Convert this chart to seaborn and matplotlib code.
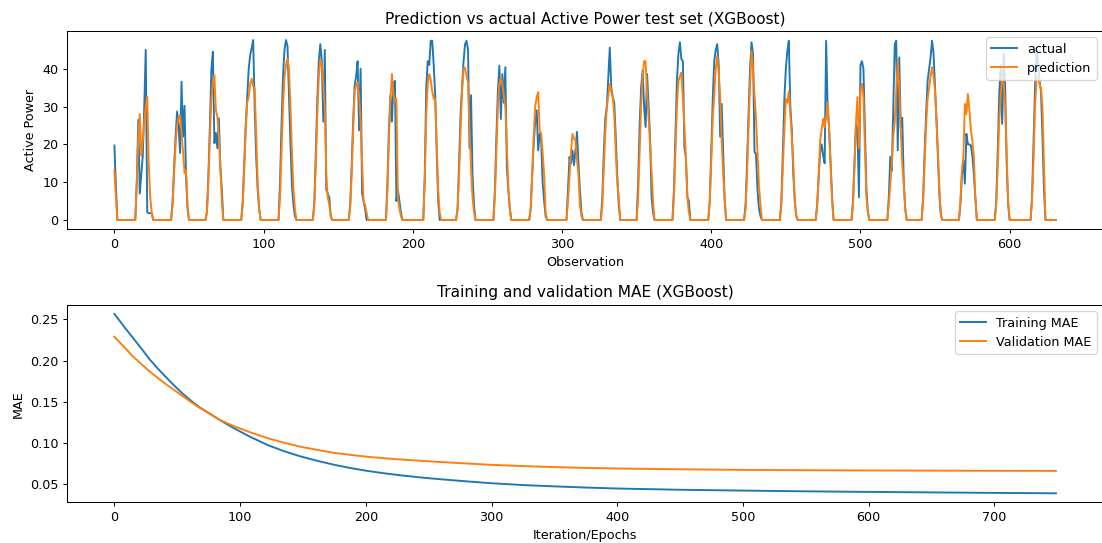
import numpy as np
import matplotlib
matplotlib.use("Agg")
import matplotlib.pyplot as plt
import seaborn as sns

# test set: hourly observations, night hours are zero
N_OBS = 632
day_start = [0, 14, 38, 61, 85, 110, 133, 157, 182, 207, 229, 254, 278, 303, 326, 350, 374, 398, 422, 446, 470, 494, 518, 541, 566, 590, 614]
actual_days = [
    [19.7, 9, 0],
    [0, 10, 26.5, 7, 12, 17, 30, 45, 2, 1.8, 1.8, 1.8, 0],
    [0, 5, 14, 22, 28.7, 25, 17.7, 36.6, 22, 30.2, 11.5, 3, 0],
    [0, 2, 12, 25, 40, 44.5, 20.3, 23, 19, 26.9, 14, 8, 0],
    [0, 5, 15, 25, 32.6, 40, 43.6, 45.5, 47.6, 30, 17, 8, 3, 0],
    [0, 10, 25, 38, 45, 47.6, 46, 33, 20, 9, 4, 1, 0],
    [0, 5, 18, 32, 42, 46.5, 42, 26, 45, 8, 7, 6, 1, 0],
    [0, 4, 14, 26, 35.5, 38, 42, 23.7, 40, 7, 5, 3, 0],
    [0, 10, 24, 33, 26, 36, 36.8, 5, 8, 5, 2, 0],
    [0, 12, 35, 42, 41, 47.4, 47.4, 41, 33, 18, 5, 0],
    [0, 3, 15, 28, 35, 42, 46.5, 47.4, 45, 19, 33, 12, 4, 0],
    [0, 8, 22, 34, 40.8, 26.7, 38.6, 31, 40.4, 14, 8, 3, 0],
    [0, 3, 12, 20, 26, 29, 18.4, 22.8, 21, 10, 5, 1, 0],
    [0, 8, 16.7, 15, 18.4, 14.5, 18.4, 23.3, 15, 8, 2, 0],
    [0, 6, 18, 27, 29.8, 38, 45.6, 35, 32.5, 31, 22, 12, 4, 0],
    [0, 10, 25, 35, 39.5, 30, 24.6, 38.6, 30, 22, 6, 2, 0],
    [0, 8, 22, 36.8, 44, 47, 42.5, 42, 19.3, 16.7, 6, 5, 0],
    [0, 5, 18, 32, 42, 45, 46.5, 41, 22, 30.7, 17.5, 5, 0],
    [0, 4, 15, 28, 40, 47, 44, 18, 17.5, 8, 3, 1, 0],
    [0, 5, 18, 32, 40, 44.7, 47.4, 30, 23.7, 12, 5, 1, 0],
    [0, 4, 11.5, 18, 20, 17, 15, 47.4, 30, 24, 15, 6, 0],
    [0, 5, 15, 25.4, 24, 6, 41, 42, 40, 23.7, 8, 2, 0],
    [0, 6, 16.7, 13, 30, 46.5, 47.4, 18.4, 43, 24.5, 27, 10.5, 3, 0],
    [0, 6, 18, 28, 36.8, 40, 43, 47.4, 44, 35, 26, 16, 6, 1, 0],
    [0, 4, 12, 15.8, 9.6, 22.8, 20, 20, 19.7, 17, 12, 6, 0],
    [0, 5, 18, 33, 41, 25.4, 44, 35, 15, 4, 0],
    [0, 6, 20, 35, 44.7, 42, 36.8, 34, 22, 8, 0],
]
pred_days = [
    [13.2, 6, 0],
    [0, 10, 22, 28, 17, 21, 26, 30, 32.6, 15, 6, 2, 0],
    [0, 4, 12, 20, 25, 27, 27.8, 23, 18, 12.4, 13.3, 4, 0],
    [0, 2, 10, 22, 32, 36, 38.3, 29, 27.3, 22, 14, 5, 0],
    [0, 4, 13, 24, 31, 32.6, 36, 37.4, 35.3, 35, 23, 10, 3, 0],
    [0, 6, 18, 30, 38, 41, 42.7, 40, 30, 18, 8, 3, 0],
    [0, 4, 15, 28, 38, 42.5, 41, 36, 30, 12, 6, 4, 1, 0],
    [0, 3, 12, 24, 34, 35.5, 36.4, 33, 26, 15, 5, 4, 2, 0],
    [0, 8, 22, 32, 38.6, 33, 31.6, 32, 6, 3, 1, 0],
    [0, 10, 28, 36, 38.6, 37, 34, 32, 32, 20, 8, 2, 0],
    [0, 3, 12, 24, 34, 40, 40.3, 38, 36.4, 24, 14, 6, 2, 0],
    [0, 6, 18, 30, 36, 37.7, 36, 33, 29.8, 20, 9, 3, 0],
    [0, 3, 12, 22, 30, 32.5, 33.8, 23.7, 22.8, 18, 12, 2, 0],
    [0, 5, 11.5, 18, 22.8, 21.5, 21, 16, 12, 4, 1, 0],
    [0, 4, 14, 23, 29.8, 33, 36, 34, 32.5, 28, 18, 10, 6, 0],
    [0, 6, 18, 30, 38, 42, 42, 33.3, 27, 20, 13, 5, 0],
    [0, 6, 18, 30, 36.8, 38, 39, 32, 25, 16.7, 6, 2, 0],
    [0, 5, 15, 27, 33, 40, 43.4, 39, 32.5, 21, 12, 6, 0],
    [0, 3, 12, 25, 36, 44.7, 40, 33, 27, 18, 9, 4, 0],
    [0, 4, 14, 24, 32, 31, 34, 28, 22, 15, 5, 1, 0],
    [0, 4, 12, 21, 24, 26.8, 24.5, 27, 31, 24, 14, 5, 0],
    [0, 4, 14, 26, 32.5, 19, 34, 36, 32.5, 19, 6, 2, 0],
    [0, 4, 9.6, 15, 22, 26, 34, 42, 35, 23.7, 15, 9.6, 3, 0],
    [0, 5, 15, 25, 32, 35, 38, 40.4, 38, 34, 26, 17, 7, 1, 0],
    [0, 5, 13, 17, 30.7, 28, 33.3, 29, 24, 21, 16.7, 6, 0],
    [0, 4, 14, 26, 33, 38, 36, 30, 17, 5, 0],
    [0, 5, 16, 30, 36.8, 38, 36, 34.7, 29.8, 15, 0],
]

# xgboost eval history (read at selected iterations)
iterations = [0, 8, 15, 22, 28, 35, 42, 48, 55, 62, 68, 76, 84, 95, 108, 122, 135, 148, 162, 175, 190, 202, 215, 228,
              245, 260, 280, 300, 325, 350, 375, 400, 450, 500, 550, 600, 650, 700, 749]
train_mae = [0.2565, 0.2405, 0.227, 0.2135, 0.2015, 0.1895, 0.1783, 0.169, 0.1589, 0.15, 0.1431, 0.1355, 0.1277,
             0.118, 0.1075, 0.0975, 0.09, 0.0838, 0.0782, 0.0735, 0.069, 0.066, 0.0632, 0.0608,
             0.058, 0.056, 0.0535, 0.0512, 0.049, 0.0474, 0.046, 0.0448, 0.0433, 0.0423, 0.0414, 0.0407, 0.0401, 0.0395, 0.039]
val_mae = [0.2289, 0.216, 0.2046, 0.195, 0.1868, 0.1783, 0.1702, 0.1637, 0.1562, 0.1485, 0.1425, 0.1352, 0.128,
           0.1205, 0.113, 0.1058, 0.1003, 0.0955, 0.0915, 0.088, 0.0852, 0.0832, 0.0815, 0.08,
           0.0783, 0.0769, 0.0752, 0.0735, 0.072, 0.0708, 0.0698, 0.0691, 0.0681, 0.0674, 0.067, 0.0667, 0.0665, 0.0663, 0.0662]


def build_series(days):
    out = np.zeros(N_OBS)
    for s, vals in zip(day_start, days):
        out[s:s + len(vals)] = vals
    return out


def plot_results():
    obs = np.arange(N_OBS)
    actual, pred = build_series(actual_days), build_series(pred_days)

    fig = plt.figure(figsize=(1102 / 92, 543 / 92), dpi=92)
    ax1 = fig.add_axes([0.0611, 0.5783, 0.9398, 0.3646])
    ax2 = fig.add_axes([0.0611, 0.0750, 0.9398, 0.3633])

    sns.lineplot(x=obs, y=actual, color="C0", label="actual", ax=ax1)
    sns.lineplot(x=obs, y=pred, color="C1", label="prediction", ax=ax1)
    ax1.set_title("Prediction vs actual Active Power test set (XGBoost)")
    ax1.set_xlabel("Observation"); ax1.set_ylabel("Active Power")
    ax1.legend(loc="upper right")

    sns.lineplot(x=iterations, y=train_mae, color="C0", label="Training MAE", ax=ax2)
    sns.lineplot(x=iterations, y=val_mae, color="C1", label="Validation MAE", ax=ax2)
    ax2.set_title("Training and validation MAE (XGBoost)")
    ax2.set_xlabel("Iteration/Epochs"); ax2.set_ylabel("MAE")
    ax2.legend(loc="upper right")

    fig.savefig("out.png", dpi=92)
    plt.close(fig)


if __name__ == "__main__":
    plot_results()
